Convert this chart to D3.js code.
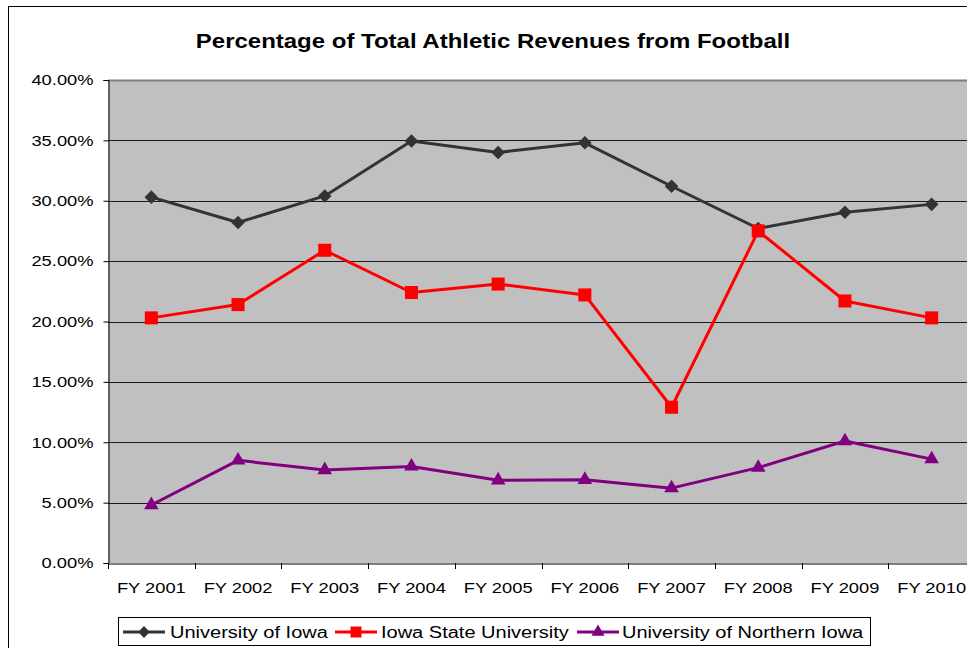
<!DOCTYPE html>
<html><head><meta charset="utf-8">
<script src="https://cdn.jsdelivr.net/npm/d3@7"></script>
<style>
html,body{margin:0;padding:0;background:#fff;}
svg{display:block;font-family:"Liberation Sans",Arial,sans-serif;}
</style></head>
<body><svg id="c" width="967" height="648"></svg>
<script>
const categories = ["FY 2001","FY 2002","FY 2003","FY 2004","FY 2005","FY 2006","FY 2007","FY 2008","FY 2009","FY 2010"];
const iowa = [30.3, 28.2, 30.4, 34.95, 34.0, 34.8, 31.2, 27.7, 29.05, 29.7];
const iowaState = [20.3, 21.4, 25.9, 22.4, 23.1, 22.2, 12.9, 27.5, 21.7, 20.3];
const northernIowa = [4.8, 8.5, 7.7, 8.0, 6.85, 6.9, 6.2, 7.9, 10.1, 8.6];
const yTicks = [0,5,10,15,20,25,30,35,40];
const seriesNames = ["University of Iowa","Iowa State University","University of Northern Iowa"];
const title = "Percentage of Total Athletic Revenues from Football";

const series = [
  {name: seriesNames[0], values: iowa, color: "#333333", shape: d3.symbolSquare, size: 92, rot: 45, legSize: 70},
  {name: seriesNames[1], values: iowaState, color: "#ff0000", shape: d3.symbolSquare, size: 170, rot: 0, legSize: 120},
  {name: seriesNames[2], values: northernIowa, color: "#800080", shape: d3.symbolTriangle, size: 92, rot: 0, legSize: 75}
];

const svg = d3.select("#c");
const L = 108, T = 80, R = 975, B = 563;
const FONT = "Liberation Sans, Arial, sans-serif";

function stretch(sel, k){
  sel.each(function(){
    const w = this.getComputedTextLength();
    d3.select(this).attr("textLength", w*k).attr("lengthAdjust","spacingAndGlyphs");
  });
}

// outer chart frame
svg.append("rect").attr("x",8.5).attr("y",6.5).attr("width",1000).attr("height",700)
  .attr("fill","#fff").attr("stroke","#000").attr("stroke-width",1);

// title
const tt = svg.append("text").attr("x",493).attr("y",48).attr("text-anchor","middle")
  .attr("font-size","19.5px").attr("font-weight","bold").attr("font-family",FONT).text(title);
stretch(tt, 1.23);

const x = d3.scaleBand().domain(categories).range([L,R]).padding(0);
const y = d3.scaleLinear().domain([0,40]).range([B,T]);
const cx = c => x(c) + x.bandwidth()/2;

// plot area
svg.append("rect").attr("x",L).attr("y",T).attr("width",R-L).attr("height",B-T).attr("fill","#c0c0c0");
svg.append("line").attr("x1",L).attr("x2",R).attr("y1",T+0.5).attr("y2",T+0.5).attr("stroke","#808080").attr("stroke-width",2);

// gridlines
svg.append("g").selectAll("line").data(yTicks.filter(d=>d>0 && d<40)).join("line")
  .attr("x1",L).attr("x2",R).attr("y1",d=>Math.round(y(d))+0.5).attr("y2",d=>Math.round(y(d))+0.5)
  .attr("stroke","#1a1a1a").attr("stroke-width",1);

// y axis
const yAxis = d3.axisLeft(y).tickValues(yTicks).tickFormat(d=>d.toFixed(2)+"%").tickSize(5).tickPadding(10);
const gy = svg.append("g").attr("transform",`translate(${L+0.5},0)`).call(yAxis);
gy.attr("font-size",null).attr("font-family",null);
gy.select(".domain").attr("stroke","#000");
gy.selectAll(".tick line").attr("stroke","#000");
gy.selectAll("text").attr("font-size","15px").attr("fill","#000").attr("font-family",FONT);
stretch(gy.selectAll("text"), 1.22);

// x axis
const xAxis = d3.axisBottom(x).tickSize(0).tickPadding(19);
const gx = svg.append("g").attr("transform",`translate(0,${B+0.5})`).call(xAxis);
gx.attr("font-size",null).attr("font-family",null);
gx.select(".domain").attr("stroke","#000");
gx.selectAll("text").attr("font-size","15px").attr("fill","#000").attr("font-family",FONT);
stretch(gx.selectAll("text"), 1.22);
svg.append("g").selectAll("line").data(categories).join("line")
  .attr("x1",d=>Math.round(x(d))+0.5).attr("x2",d=>Math.round(x(d))+0.5)
  .attr("y1",B).attr("y2",B+6).attr("stroke","#000");

// lines + markers
const line = d3.line().x((d,i)=>cx(categories[i])).y(d=>y(d));
series.forEach(s=>{
  svg.append("path").datum(s.values).attr("d",line).attr("fill","none")
    .attr("stroke",s.color).attr("stroke-width",3).attr("stroke-linejoin","round");
  svg.append("g").selectAll("path").data(s.values).join("path")
    .attr("d",d3.symbol().type(s.shape).size(s.size))
    .attr("transform",(d,i)=>`translate(${cx(categories[i])},${y(d)}) rotate(${s.rot})`)
    .attr("fill",s.color);
});

// legend
const lg = svg.append("g");
lg.append("rect").attr("x",118.5).attr("y",617.5).attr("width",752).attr("height",28)
  .attr("fill","#fff").attr("stroke","#000").attr("stroke-width",1);
const legX = [{l:123,t:170},{l:335,t:381},{l:577,t:622}];
series.forEach((s,i)=>{
  const p = legX[i];
  lg.append("line").attr("x1",p.l).attr("x2",p.l+42).attr("y1",632).attr("y2",632)
    .attr("stroke",s.color).attr("stroke-width",3);
  lg.append("path").attr("d",d3.symbol().type(s.shape).size(s.legSize))
    .attr("transform",`translate(${p.l+21},632) rotate(${s.rot})`).attr("fill",s.color);
  const t = lg.append("text").attr("x",p.t).attr("y",638).attr("font-size","16px")
    .attr("font-family",FONT).attr("fill","#000").text(s.name);
  stretch(t, 1.25);
});
</script></body></html>
